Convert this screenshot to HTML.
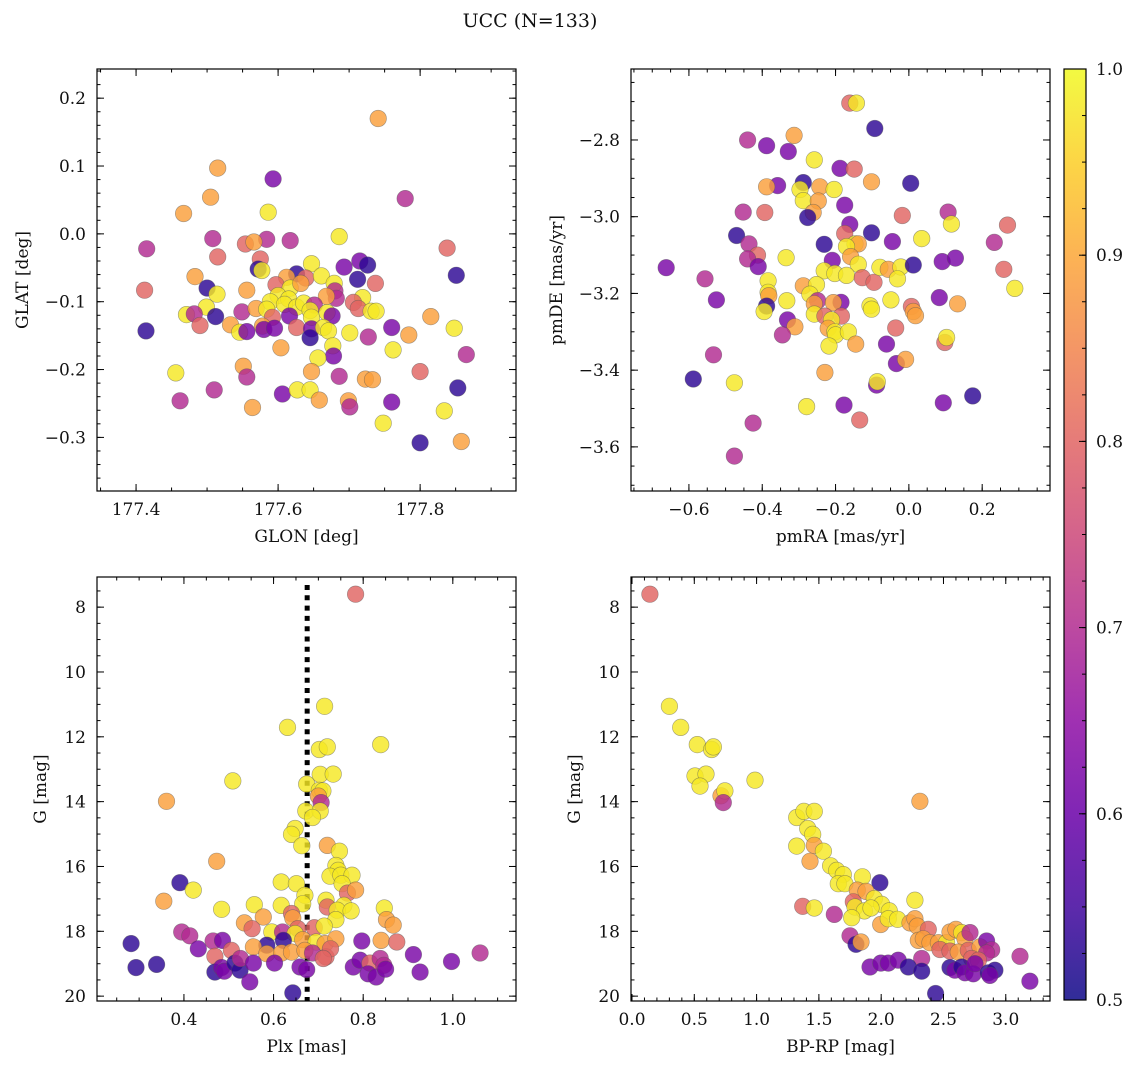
<!DOCTYPE html>
<html><head><meta charset="utf-8"><style>
html,body{margin:0;padding:0;background:#fff;}
svg text{font-family:"DejaVu Serif","Liberation Serif",serif;fill:#111;}
</style></head><body>
<svg id="fig" width="1136" height="1068" viewBox="0 0 1136 1068" xmlns="http://www.w3.org/2000/svg">
<defs>
<linearGradient id="plasma" x1="0" y1="1" x2="0" y2="0">
<stop offset="0" stop-color="#0d0887"/><stop offset="0.1" stop-color="#41049d"/><stop offset="0.2" stop-color="#6a00a8"/><stop offset="0.3" stop-color="#8f0da4"/><stop offset="0.4" stop-color="#b12a90"/><stop offset="0.5" stop-color="#cc4778"/><stop offset="0.6" stop-color="#e16462"/><stop offset="0.7" stop-color="#f2844b"/><stop offset="0.8" stop-color="#fca636"/><stop offset="0.9" stop-color="#fcce25"/><stop offset="1" stop-color="#f0f921"/>
</linearGradient>
</defs>
<text x="530" y="27" font-size="19" text-anchor="middle">UCC (N=133)</text>
</svg>
<script>
// Panel 1: GLON / GLAT
const p1x=[177.741,177.515,177.593,177.779,177.505,177.467,177.586,177.686,177.415,177.508,177.584,177.617,177.554,177.566,177.838,177.515,177.575,177.572,177.577,177.647,177.715,177.726,177.693,177.851,177.626,177.639,177.661,177.612,177.712,177.737,177.412,177.483,177.500,177.514,177.556,177.597,177.617,177.632,177.679,177.680,177.682,177.668,177.600,177.589,177.615,177.609,177.626,177.636,177.651,177.719,177.706,177.713,177.499,177.471,177.482,177.512,177.549,177.569,177.584,177.592,177.616,177.645,177.647,177.669,177.676,177.731,177.738,177.815,177.490,177.533,177.546,177.556,177.578,177.580,177.595,177.626,177.647,177.664,177.671,177.645,177.701,177.727,177.760,177.784,177.848,177.414,177.604,177.677,177.678,177.762,177.865,177.656,177.456,177.551,177.556,177.647,177.686,177.723,177.733,177.800,177.853,177.510,177.606,177.627,177.645,177.658,177.699,177.701,177.760,177.462,177.564,177.834,177.748,177.800,177.858];
const p1y=[0.170,0.097,0.081,0.052,0.054,0.030,0.032,-0.004,-0.022,-0.007,-0.008,-0.010,-0.015,-0.012,-0.021,-0.034,-0.037,-0.052,-0.054,-0.044,-0.040,-0.046,-0.049,-0.061,-0.059,-0.065,-0.062,-0.064,-0.067,-0.073,-0.083,-0.063,-0.080,-0.089,-0.083,-0.075,-0.080,-0.073,-0.073,-0.084,-0.095,-0.092,-0.091,-0.100,-0.096,-0.104,-0.108,-0.102,-0.105,-0.094,-0.101,-0.110,-0.108,-0.119,-0.118,-0.122,-0.115,-0.110,-0.111,-0.123,-0.121,-0.113,-0.123,-0.116,-0.121,-0.114,-0.114,-0.122,-0.135,-0.134,-0.145,-0.144,-0.136,-0.141,-0.139,-0.138,-0.140,-0.138,-0.143,-0.153,-0.146,-0.152,-0.138,-0.149,-0.139,-0.143,-0.168,-0.165,-0.180,-0.171,-0.178,-0.183,-0.205,-0.195,-0.211,-0.203,-0.210,-0.214,-0.215,-0.203,-0.227,-0.230,-0.236,-0.230,-0.230,-0.245,-0.246,-0.255,-0.248,-0.246,-0.256,-0.261,-0.279,-0.308,-0.306];
const p1c=[.89,.89,.62,.70,.89,.89,.98,.98,.70,.70,.70,.70,.80,.89,.80,.80,.80,.53,.98,.98,.62,.53,.62,.53,.53,.80,.98,.89,.53,.80,.80,.89,.53,.98,.89,.80,.98,.89,.98,.70,.70,.89,.98,.98,.98,.98,.98,.98,.70,.98,.80,.80,.98,.98,.70,.53,.70,.89,.98,.80,.62,.98,.98,.98,.62,.98,.98,.89,.80,.89,.98,.62,.89,.62,.62,.80,.62,.98,.98,.53,.98,.70,.62,.89,.98,.53,.89,.98,.62,.98,.70,.98,.98,.89,.70,.89,.70,.89,.89,.80,.53,.70,.62,.98,.98,.89,.89,.70,.62,.70,.89,.98,.98,.53,.89];
// Panel 2: pmRA / pmDE
const p2x=[-.161,-.143,-.093,-.440,-.388,-.329,-.313,-.258,-.188,-.149,-.102,.005,-.288,-.358,-.388,-.243,-.204,-.297,-.288,-.247,-.175,-.452,-.393,-.261,-.276,-.018,.107,.116,.269,-.161,-.175,-.102,-.470,-.231,-.147,-.138,-.170,-.045,.035,.233,-.436,-.413,-.440,-.411,-.335,-.209,-.159,-.138,-.662,-.556,-.525,-.384,-.231,-.202,-.170,-.127,-.095,-.079,-.056,-.022,.012,-.031,.091,.127,.259,.289,-.288,-.252,-.270,-.384,-.382,-.388,-.395,-.333,-.249,-.258,-.185,-.206,-.106,-.102,-.049,.083,.133,.007,.012,.018,-.258,-.229,-.184,-.211,-.331,-.311,-.220,-.202,-.200,-.165,-.345,-.036,-.218,-.145,-.061,.098,.103,-.533,-.034,-.009,-.229,-.588,-.476,-.088,-.086,.174,-.279,-.177,.094,-.134,-.425,-.476];
const p2y=[-2.704,-2.704,-2.770,-2.800,-2.815,-2.830,-2.788,-2.852,-2.874,-2.876,-2.909,-2.913,-2.911,-2.919,-2.922,-2.922,-2.929,-2.929,-2.958,-2.959,-2.970,-2.988,-2.989,-2.989,-3.002,-2.997,-2.988,-3.019,-3.022,-3.020,-3.044,-3.042,-3.049,-3.072,-3.071,-3.071,-3.078,-3.065,-3.057,-3.067,-3.071,-3.100,-3.110,-3.130,-3.107,-3.114,-3.104,-3.124,-3.133,-3.162,-3.217,-3.167,-3.141,-3.148,-3.153,-3.159,-3.171,-3.132,-3.137,-3.131,-3.126,-3.162,-3.117,-3.108,-3.137,-3.187,-3.180,-3.177,-3.202,-3.197,-3.206,-3.233,-3.247,-3.219,-3.219,-3.227,-3.223,-3.224,-3.232,-3.241,-3.217,-3.211,-3.227,-3.234,-3.247,-3.258,-3.254,-3.259,-3.259,-3.269,-3.269,-3.287,-3.291,-3.300,-3.308,-3.300,-3.308,-3.290,-3.337,-3.332,-3.332,-3.328,-3.315,-3.360,-3.383,-3.372,-3.406,-3.423,-3.433,-3.439,-3.430,-3.467,-3.495,-3.491,-3.485,-3.530,-3.538,-3.624];
const p2c=[.80,.98,.53,.70,.62,.62,.89,.98,.62,.80,.89,.53,.53,.62,.89,.89,.98,.98,.98,.89,.62,.70,.80,.89,.53,.80,.70,.98,.80,.62,.80,.53,.53,.53,.98,.89,.98,.62,.98,.70,.70,.80,.70,.62,.98,.62,.89,.98,.62,.70,.62,.98,.98,.98,.98,.80,.80,.98,.89,.98,.53,.98,.62,.62,.80,.98,.89,.98,.98,.98,.89,.53,.98,.98,.70,.89,.62,.89,.98,.98,.98,.62,.89,.80,.89,.89,.98,.80,.80,.98,.62,.89,.89,.98,.98,.98,.70,.80,.98,.89,.62,.80,.98,.70,.62,.89,.89,.53,.98,.62,.98,.53,.98,.62,.62,.80,.70,.70];
// Panel 3: Plx / G
const p3x=[.783,.714,.631,.839,.702,.720,.509,.704,.733,.674,.361,.702,.710,.700,.706,.672,.704,.687,.648,.640,.663,.720,.747,.473,.739,.744,.726,.750,.775,.753,.391,.421,.617,.651,.765,.783,.670,.665,.355,.717,.720,.757,.484,.557,.617,.640,.742,.773,.847,.577,.643,.739,.852,.867,.535,.552,.596,.620,.654,.691,.713,.648,.395,.413,.282,.465,.486,.585,.622,.665,.695,.715,.739,.797,.840,.875,.432,.469,.506,.555,.585,.618,.640,.670,.687,.717,.727,.912,1.061,.293,.339,.469,.484,.490,.514,.525,.526,.555,.602,.659,.674,.711,.778,.793,.815,.811,.829,.838,.846,.850,.927,.997,.547,.643];
const p3y=[7.60,11.06,11.71,12.24,12.39,12.31,13.36,13.16,13.15,13.46,13.99,13.65,13.67,13.83,14.03,14.29,14.29,14.49,14.83,15.01,15.36,15.35,15.53,15.84,15.97,16.12,16.30,16.27,16.27,16.53,16.50,16.73,16.48,16.53,16.82,16.73,16.89,17.15,17.07,17.04,17.25,17.20,17.32,17.18,17.20,17.45,17.35,17.37,17.28,17.56,17.59,17.64,17.64,17.81,17.74,17.92,18.02,18.02,17.92,17.89,17.84,18.07,18.02,18.14,18.38,18.30,18.28,18.43,18.28,18.26,18.33,18.38,18.23,18.30,18.28,18.33,18.54,18.77,18.59,18.48,18.69,18.67,18.64,18.59,18.67,18.79,18.54,18.72,18.67,19.12,19.02,19.26,19.12,19.23,18.98,19.20,18.84,18.98,18.98,19.10,19.18,18.84,19.10,18.89,18.98,19.31,19.41,18.84,19.05,19.17,19.26,18.93,19.56,19.90];
const p3c=[.80,.98,.98,.98,.98,.98,.98,.98,.98,.98,.89,.98,.98,.89,.70,.98,.98,.98,.98,.98,.98,.89,.98,.89,.98,.98,.98,.98,.98,.98,.53,.98,.98,.98,.80,.89,.98,.98,.89,.98,.80,.98,.98,.98,.98,.80,.98,.98,.98,.89,.89,.98,.89,.89,.89,.80,.98,.70,.80,.80,.98,.98,.70,.70,.53,.70,.62,.53,.53,.89,.98,.89,.89,.62,.89,.80,.62,.80,.80,.89,.89,.89,.89,.89,.70,.80,.80,.62,.70,.53,.53,.53,.62,.62,.53,.53,.70,.62,.62,.62,.62,.80,.62,.62,.80,.62,.62,.70,.70,.62,.62,.62,.62,.53];
const plxRef=0.675;
// Panel 4: BP-RP / G
const p4x=[.144,.300,.391,.524,.639,.653,.506,.594,.546,.987,.714,.746,.733,2.311,1.322,1.380,1.463,1.410,1.450,1.463,1.322,1.536,1.429,1.594,1.643,1.696,1.656,1.709,1.849,1.990,1.808,1.878,1.776,1.945,2.004,1.790,1.865,1.918,2.065,1.370,1.463,1.624,1.763,1.996,2.057,2.132,2.231,2.271,2.271,2.290,2.378,1.750,1.798,1.838,2.298,2.338,2.392,2.459,2.525,2.552,2.600,2.646,2.673,2.713,2.472,2.552,2.619,2.699,2.793,2.846,2.887,2.846,2.726,2.780,2.325,3.114,1.910,1.998,2.057,2.137,2.218,2.325,2.552,2.592,2.646,2.673,2.739,2.753,2.860,2.913,2.873,3.194,2.437];
const p4y=[7.60,11.06,11.71,12.24,12.39,12.31,13.21,13.15,13.52,13.34,13.82,13.67,14.03,13.99,14.49,14.30,14.30,14.83,15.01,15.35,15.37,15.53,15.84,15.98,16.12,16.25,16.53,16.53,16.32,16.50,16.73,16.77,17.09,16.99,17.17,17.25,17.37,17.28,17.37,17.23,17.28,17.48,17.58,17.79,17.61,17.63,17.74,17.61,17.04,17.84,17.94,18.14,18.40,18.33,18.28,18.23,18.35,18.35,18.35,18.02,17.94,18.04,18.23,18.04,18.56,18.61,18.64,18.59,18.48,18.30,18.57,18.67,18.84,18.89,18.84,18.77,19.10,18.98,18.98,18.89,19.10,19.23,19.12,19.20,19.10,19.28,19.31,19.00,19.28,19.20,19.36,19.54,19.92];
const p4c=[.80,.98,.98,.98,.98,.98,.98,.98,.98,.98,.89,.98,.70,.89,.98,.98,.98,.98,.98,.89,.98,.98,.89,.98,.98,.98,.98,.98,.98,.53,.89,.89,.80,.98,.98,.98,.98,.98,.98,.80,.98,.70,.98,.89,.98,.98,.89,.89,.98,.89,.80,.70,.53,.89,.89,.89,.89,.89,.98,.89,.89,.98,.89,.70,.80,.80,.89,.80,.89,.62,.70,.70,.80,.80,.70,.70,.62,.62,.62,.62,.53,.53,.53,.62,.53,.62,.62,.62,.53,.53,.62,.62,.53];
// Colorbar
const cbTicks=[0.5,0.6,0.7,0.8,0.9,1.0];
const cbLabels=["0.5","0.6","0.7","0.8","0.9","1.0"];

const NS="http://www.w3.org/2000/svg";
const svg=document.getElementById('fig');
function mk(tag,attrs,parent){const e=document.createElementNS(NS,tag);for(const k in attrs)e.setAttribute(k,attrs[k]);(parent||svg).appendChild(e);return e;}
const stops=[[13,8,135],[65,4,157],[106,0,168],[143,13,164],[177,42,144],[204,71,120],[225,100,98],[242,132,75],[252,166,54],[252,206,37],[240,249,33]];
function plasma(v){let t=Math.max(0,Math.min(1,(v-0.5)/0.5))*10;const i=Math.min(9,Math.floor(t));const f=t-i;const a=stops[i],b=stops[i+1];return 'rgb('+a.map((c,k)=>Math.round(c+(b[k]-c)*f)).join(',')+')';}
function fmt(v,d){const s=Math.abs(v).toFixed(d);return (v<-1e-9?'\u2212':'')+s;}

function panel(o){
  const sx=v=>o.x0+(v-o.xmin)/(o.xmax-o.xmin)*(o.x1-o.x0);
  const sy=o.yinv?(v=>o.y0+(v-o.ymin)/(o.ymax-o.ymin)*(o.y1-o.y0)):(v=>o.y1-(v-o.ymin)/(o.ymax-o.ymin)*(o.y1-o.y0));
  const g=mk('g',{});
  
  
  const clipId='clip-'+o.name;
  const cp=mk('clipPath',{id:clipId},svg.querySelector('defs'));
  mk('rect',{x:o.x0,y:o.y0,width:o.x1-o.x0,height:o.y1-o.y0},cp);
  const pts=mk('g',{'clip-path':'url(#'+clipId+')'},g);
  
  
  if(o.vline!==undefined){
    const vl=mk('line',{x1:sx(o.vline),x2:sx(o.vline),y1:o.y0+8,y2:o.y1,stroke:'#000','stroke-width':5,'stroke-dasharray':'5,5.3'},pts);
    
    
  }
  for(let i=0;i<o.xs.length;i++){
    const c=mk('circle',{cx:sx(o.xs[i]).toFixed(1),cy:sy(o.ys[i]).toFixed(1),r:8.3,fill:plasma(o.cs[i]),'fill-opacity':0.82,stroke:'#555','stroke-opacity':0.55,'stroke-width':0.6},pts);
    
    
  }
  // ticks
  const tk=mk('g',{stroke:'#000','stroke-width':1},g);
  const eps=1e-9;
  for(let v=Math.ceil(o.xmin/o.xminor-eps)*o.xminor;v<=o.xmax+eps;v+=o.xminor){
    const X=sx(v);mk('line',{x1:X,x2:X,y1:o.y1,y2:o.y1-3.5},tk);mk('line',{x1:X,x2:X,y1:o.y0,y2:o.y0+3.5},tk);
  }
  for(let v=Math.ceil(o.ymin/o.yminor-eps)*o.yminor;v<=o.ymax+eps;v+=o.yminor){
    const Y=sy(v);mk('line',{x1:o.x0,x2:o.x0+3.5,y1:Y,y2:Y},tk);mk('line',{x1:o.x1,x2:o.x1-3.5,y1:Y,y2:Y},tk);
  }
  o.xt.forEach(v=>{const X=sx(v);mk('line',{x1:X,x2:X,y1:o.y1,y2:o.y1-7},tk);mk('line',{x1:X,x2:X,y1:o.y0,y2:o.y0+7},tk);
    const t=mk('text',{x:X,y:o.y1+24,'font-size':17,'text-anchor':'middle'},g);t.textContent=fmt(v,o.xd);
    });
  o.yt.forEach(v=>{const Y=sy(v);mk('line',{x1:o.x0,x2:o.x0+7,y1:Y,y2:Y},tk);mk('line',{x1:o.x1,x2:o.x1-7,y1:Y,y2:Y},tk);
    const t=mk('text',{x:o.x0-11,y:Y+6,'font-size':17,'text-anchor':'end'},g);t.textContent=fmt(v,o.yd);
    });
  const fr=mk('rect',{x:o.x0,y:o.y0,width:o.x1-o.x0,height:o.y1-o.y0,fill:'none',stroke:'#000','stroke-width':1.2},g);
  
  const xl=mk('text',{x:(o.x0+o.x1)/2,y:o.y1+51,'font-size':17,'text-anchor':'middle'},g);xl.textContent=o.xlabel;
  
  const cy=(o.y0+o.y1)/2;
  const yl=mk('text',{x:o.ylx,y:cy,'font-size':17,'text-anchor':'middle',transform:'rotate(-90 '+o.ylx+' '+cy+')'},g);yl.textContent=o.ylabel;
  
}

panel({name:'glon-glat-panel',x0:97,x1:516,y0:69,y1:491,xmin:177.345,xmax:177.935,ymin:-0.379,ymax:0.243,xs:p1x,ys:p1y,cs:p1c,
  xt:[177.4,177.6,177.8],xd:1,xminor:0.05,yt:[-0.3,-0.2,-0.1,0,0.1,0.2],yd:1,yminor:0.02,xlabel:'GLON [deg]',ylabel:'GLAT [deg]',ylx:28});
panel({name:'pm-panel',x0:631,x1:1050,y0:69,y1:491,xmin:-0.758,xmax:0.385,ymin:-3.715,ymax:-2.615,xs:p2x,ys:p2y,cs:p2c,
  xt:[-0.6,-0.4,-0.2,0,0.2],xd:1,xminor:0.05,yt:[-3.6,-3.4,-3.2,-3.0,-2.8],yd:1,yminor:0.05,xlabel:'pmRA [mas/yr]',ylabel:'pmDE [mas/yr]',ylx:562});
panel({name:'plx-g-panel',x0:97,x1:516,y0:577,y1:1001,xmin:0.206,xmax:1.141,ymin:7.07,ymax:20.15,yinv:true,xs:p3x,ys:p3y,cs:p3c,vline:plxRef,
  xt:[0.4,0.6,0.8,1.0],xd:1,xminor:0.05,yt:[8,10,12,14,16,18,20],yd:0,yminor:0.5,xlabel:'Plx [mas]',ylabel:'G [mag]',ylx:46});
panel({name:'cmd-panel',x0:631,x1:1050,y0:577,y1:1001,xmin:-0.008,xmax:3.355,ymin:7.07,ymax:20.15,yinv:true,xs:p4x,ys:p4y,cs:p4c,
  xt:[0,0.5,1.0,1.5,2.0,2.5,3.0],xd:1,xminor:0.1,yt:[8,10,12,14,16,18,20],yd:0,yminor:0.5,xlabel:'BP-RP [mag]',ylabel:'G [mag]',ylx:580});

// colorbar
const cb=mk('g',{});


const cbY=v=>1000-(v-0.5)/0.5*931;
mk('rect',{x:1064,y:69,width:22,height:931,fill:'url(#plasma)','fill-opacity':0.85},cb);
mk('rect',{x:1064,y:69,width:22,height:931,fill:'none',stroke:'#000','stroke-width':1.2},cb);
for(let v=0.5;v<=1.0001;v+=0.025){mk('line',{x1:1086,x2:1082,y1:cbY(v),y2:cbY(v),stroke:'#000'},cb);}
cbTicks.forEach((v,i)=>{mk('line',{x1:1086,x2:1079,y1:cbY(v),y2:cbY(v),stroke:'#000'},cb);
  const t=mk('text',{x:1096,y:cbY(v)+6,'font-size':17},cb);t.textContent=cbLabels[i];
  });
</script>
</body></html>
